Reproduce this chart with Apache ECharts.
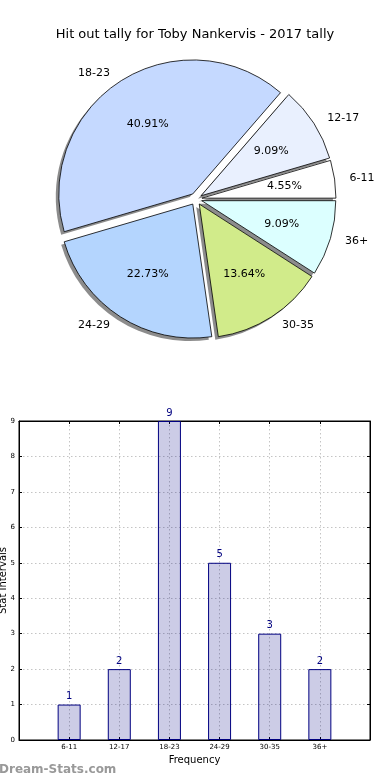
<!DOCTYPE html>
<html><head><meta charset="utf-8">
<script src="https://cdn.jsdelivr.net/npm/echarts@6/dist/echarts.min.js"></script>
<style>html,body{margin:0;padding:0;background:#fff}#c{width:390px;height:780px}</style>
</head><body><div id="c"></div>
<script>
const chartTitle = 'Hit out tally for Toby Nankervis - 2017 tally';
const categories = ['6-11', '12-17', '18-23', '24-29', '30-35', '36+'];
const counts = [1, 2, 9, 5, 3, 2];
const sliceColors = ['#ffffff', '#e9f0fe', '#c5d9ff', '#b4d5fe', '#d1eb8a', '#dcffff'];
const yAxisMax = 9;
const xAxisName = 'Frequency';
const yAxisName = 'Stat Intervals';
const watermark = 'Dream-Stats.com';

const total = counts.reduce((a, b) => a + b, 0);
const FONT = 'DejaVu Sans';
const pieCenter = [196, 199];
const shadowCenter = [pieCenter[0] - 3, pieCenter[1] + 3];
const pieR = 134;
const gridLine = {show: true, lineStyle: {type: [1.5, 2.5], color: '#c4c4c4', width: 1}};

const axisBase = {
  axisLine: {show: true, onZero: false, lineStyle: {color: '#000'}},
  axisTick: {show: true, inside: true, length: 3, lineStyle: {color: '#000'}},
  nameMoveOverlap: false
};

const pieCommon = {
  type: 'pie', radius: pieR, startAngle: 0, clockwise: false,
  selectedMode: 'multiple', selectedOffset: 6, avoidLabelOverlap: false,
  emphasis: {disabled: true}
};

const chart = echarts.init(document.getElementById('c'), null, {renderer: 'canvas'});
chart.setOption({
  animation: false,
  backgroundColor: '#fff',
  textStyle: {fontFamily: FONT},
  title: {text: chartTitle, left: 'center', top: 23,
    textStyle: {fontSize: 13, fontWeight: 'normal', color: '#000', fontFamily: FONT}},
  graphic: [{type: 'text', left: -1, top: 764,
    style: {text: watermark, fill: '#999999', font: '600 12px "DejaVu Sans"'}}],
  grid: {left: 19, right: 20, top: 421, bottom: 40, containLabel: false, outerBoundsMode: 'none',
    show: true, borderColor: '#000', borderWidth: 1},
  xAxis: [Object.assign({
    type: 'value', min: -1, max: categories.length, interval: 1,
    axisLabel: {formatter: v => categories[v] || '', fontSize: 7, color: '#000', margin: 4},
    splitLine: gridLine,
    name: xAxisName, nameLocation: 'middle', nameGap: 15,
    nameTextStyle: {fontSize: 10, color: '#000'}
  }, axisBase), Object.assign({
    type: 'value', position: 'top', min: -1, max: categories.length, interval: 1,
    axisLabel: {show: false}, splitLine: {show: false}
  }, axisBase)],
  yAxis: [Object.assign({
    type: 'value', min: 0, max: yAxisMax, interval: 1,
    axisLabel: {fontSize: 7, color: '#000', margin: 4},
    splitLine: gridLine,
    name: yAxisName, nameLocation: 'middle', nameGap: 11,
    nameTextStyle: {fontSize: 10, color: '#000'}
  }, axisBase), Object.assign({
    type: 'value', position: 'right', min: 0, max: yAxisMax, interval: 1,
    axisLabel: {show: false}, splitLine: {show: false}
  }, axisBase)],
  series: [Object.assign({}, pieCommon, {
    // shadow layer
    center: shadowCenter, silent: true, z: 1,
    itemStyle: {color: 'rgba(0,0,0,0.45)', borderWidth: 0},
    select: {itemStyle: {color: 'rgba(0,0,0,0.45)', borderWidth: 0}},
    label: {show: false}, labelLine: {show: false},
    data: categories.map((c, i) => ({name: c, value: counts[i], selected: true}))
  }), Object.assign({}, pieCommon, {
    center: pieCenter, z: 2,
    itemStyle: {borderColor: '#000', borderWidth: 0.8},
    label: {show: true, position: 'outside', formatter: '{b}', fontSize: 11, color: '#000', fontFamily: FONT},
    labelLine: {show: false, length: 10, length2: 0},
    select: {itemStyle: {borderColor: '#000', borderWidth: 0.8}},
    data: categories.map((c, i) => ({name: c, value: counts[i], selected: true, itemStyle: {color: sliceColors[i]}}))
  }), Object.assign({}, pieCommon, {
    center: pieCenter, radius: [0, pieR * 1.2], silent: true, z: 5,
    itemStyle: {color: 'rgba(0,0,0,0)', borderWidth: 0},
    label: {show: true, position: 'inside', fontSize: 11, color: '#000', fontFamily: FONT,
      formatter: p => (p.value / total * 100).toFixed(2) + '%'},
    labelLine: {show: false},
    select: {itemStyle: {color: 'rgba(0,0,0,0)', borderWidth: 0}},
    data: categories.map((c, i) => ({name: c, value: counts[i], selected: true}))
  }), {
    type: 'bar', xAxisIndex: 0, yAxisIndex: 0, barWidth: 23,
    data: counts.map((v, i) => [i, v]),
    itemStyle: {color: 'rgba(0,0,128,0.2)', borderColor: '#000080', borderWidth: 1},
    label: {show: true, position: 'top', distance: 3, color: '#000080', fontSize: 10},
    emphasis: {disabled: true}
  }]
});
</script></body></html>
